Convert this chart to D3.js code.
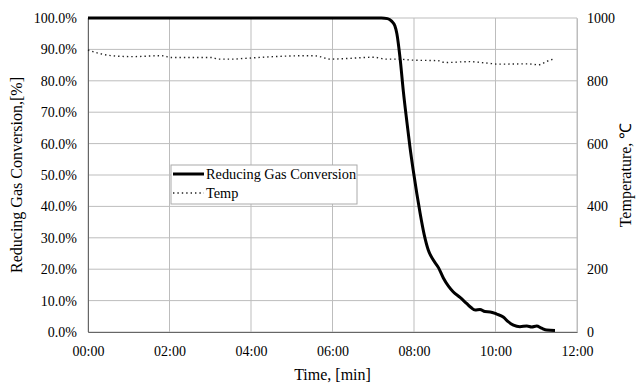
<!DOCTYPE html>
<html>
<head>
<meta charset="utf-8">
<script src="https://cdn.jsdelivr.net/npm/d3@7"></script>
<style>
  body { margin: 0; background: #fff; }
  svg, svg text { font-family: "Liberation Serif", "Times New Roman", serif !important; }
</style>
</head>
<body>
<svg id="chart"></svg>
<script>
const width = 636;
const height = 383;
const margin = { top: 18, right: 59, bottom: 51, left: 88 };

// conversion series: time [min], conversion [%]
const convTime = [0, 7.2, 7.35, 7.45, 7.53, 7.58, 7.66, 7.74, 7.82, 7.9, 7.98, 8.07, 8.15, 8.25, 8.35, 8.47, 8.6, 8.72, 8.85, 8.96, 9.13, 9.29, 9.4, 9.5, 9.62, 9.74, 9.87, 10.03, 10.19, 10.31, 10.44, 10.6, 10.77, 10.89, 11.01, 11.13, 11.26, 11.46];
const convValue = [100, 100, 99.8, 99.0, 97.5, 95.0, 87.0, 76.5, 67.5, 59, 51.6, 44, 37.8, 31, 26.1, 23, 20.5, 17.2, 14.5, 12.8, 11.0, 9.1, 7.8, 7.0, 7.2, 6.5, 6.4, 5.7, 4.8, 3.3, 2.2, 1.7, 1.9, 1.6, 1.9, 1.2, 0.6, 0.5];

// temperature series: time [min], temperature [C]
const tempTime = [0, 0.25, 0.58, 1.07, 1.81, 2.05, 3.04, 3.2, 3.53, 3.81, 4.55, 5.53, 5.69, 5.94, 6.35, 7.0, 7.33, 7.61, 7.94, 8.6, 8.76, 9.33, 9.82, 10.07, 10.8, 11.05, 11.3, 11.46];
const tempValue = [898, 888, 880, 877, 880, 874, 874, 869, 869, 871, 877, 880, 877, 869, 871, 875, 869, 869, 866, 864, 858, 861, 856, 853, 854, 851, 864, 871];

const xTicks = [0, 2, 4, 6, 8, 10, 12];
const leftTicks = [0, 10, 20, 30, 40, 50, 60, 70, 80, 90, 100];
const rightTicks = [0, 200, 400, 600, 800, 1000];

const svg = d3.select("#chart")
  .attr("width", width)
  .attr("height", height);

const x = d3.scaleLinear().domain([0, 12]).range([margin.left, width - margin.right]);
const yL = d3.scaleLinear().domain([0, 100]).range([height - margin.bottom, margin.top]);
const yR = d3.scaleLinear().domain([0, 1000]).range([height - margin.bottom, margin.top]);

const fmtTime = d => String(d).padStart(2, "0") + ":00";

// gridlines
svg.append("g")
  .selectAll("line")
  .data(leftTicks)
  .join("line")
  .attr("x1", margin.left).attr("x2", width - margin.right)
  .attr("y1", d => yL(d)).attr("y2", d => yL(d))
  .attr("stroke", "#bdbdbd").attr("stroke-width", 1);

svg.append("g")
  .selectAll("line")
  .data(xTicks)
  .join("line")
  .attr("x1", d => x(d)).attr("x2", d => x(d))
  .attr("y1", margin.top).attr("y2", height - margin.bottom)
  .attr("stroke", "#bdbdbd").attr("stroke-width", 1);

// axes
const axL = svg.append("g")
  .attr("transform", `translate(${margin.left},0)`)
  .call(d3.axisLeft(yL).tickValues(leftTicks).tickFormat(d => d.toFixed(1) + "%").tickSize(0).tickPadding(11));
const axR = svg.append("g")
  .attr("transform", `translate(${width - margin.right},0)`)
  .call(d3.axisRight(yR).tickValues(rightTicks).tickFormat(d3.format("d")).tickSize(0).tickPadding(10));
const axB = svg.append("g")
  .attr("transform", `translate(0,${height - margin.bottom})`)
  .call(d3.axisBottom(x).tickValues(xTicks).tickFormat(fmtTime).tickSize(0).tickPadding(14));

[axL, axR, axB].forEach(g => {
  g.attr("font-family", null).attr("font-size", null);
  g.selectAll("text").attr("font-size", 14).attr("fill", "#000");
});
axL.select(".domain").attr("stroke", "#666");
axB.select(".domain").attr("stroke", "#666");
axR.select(".domain").attr("stroke", "#bdbdbd");

// series
const tempData = tempTime.map((t, i) => ({ t, v: tempValue[i] }));
const convData = convTime.map((t, i) => ({ t, v: convValue[i] }));

svg.append("path")
  .datum(tempData)
  .attr("fill", "none")
  .attr("stroke", "#222")
  .attr("stroke-width", 1.4)
  .attr("stroke-dasharray", "1.4,3")
  .attr("d", d3.line().x(d => x(d.t)).y(d => yR(d.v)).curve(d3.curveMonotoneX));

svg.append("path")
  .datum(convData)
  .attr("fill", "none")
  .attr("stroke", "#000")
  .attr("stroke-width", 3)
  .attr("stroke-linejoin", "round")
  .attr("d", d3.line().x(d => x(d.t)).y(d => yL(d.v)).curve(d3.curveMonotoneX));

// axis titles
svg.append("text")
  .attr("transform", `translate(22,${(margin.top + height - margin.bottom) / 2}) rotate(-90)`)
  .attr("text-anchor", "middle")
  .attr("font-size", 16)
  .text("Reducing Gas Conversion,[%]");

svg.append("text")
  .attr("transform", `translate(631,${(margin.top + height - margin.bottom) / 2}) rotate(-90)`)
  .attr("text-anchor", "middle")
  .attr("font-size", 16)
  .text("Temperature, ℃");

svg.append("text")
  .attr("x", (margin.left + width - margin.right) / 2)
  .attr("y", 380)
  .attr("text-anchor", "middle")
  .attr("font-size", 16)
  .text("Time, [min]");

// legend
const legend = svg.append("g").attr("transform", "translate(171,165)");
legend.append("rect")
  .attr("width", 186).attr("height", 39)
  .attr("fill", "#fff").attr("stroke", "#aaa");
legend.append("line")
  .attr("x1", 2).attr("x2", 33).attr("y1", 9).attr("y2", 9)
  .attr("stroke", "#000").attr("stroke-width", 3);
legend.append("line")
  .attr("x1", 2).attr("x2", 33).attr("y1", 28).attr("y2", 28)
  .attr("stroke", "#222").attr("stroke-width", 1.4).attr("stroke-dasharray", "1.4,3");
legend.append("text").attr("x", 35).attr("y", 14).attr("font-size", 14.3).text("Reducing Gas Conversion");
legend.append("text").attr("x", 35).attr("y", 33).attr("font-size", 14.3).text("Temp");
</script>
</body>
</html>
